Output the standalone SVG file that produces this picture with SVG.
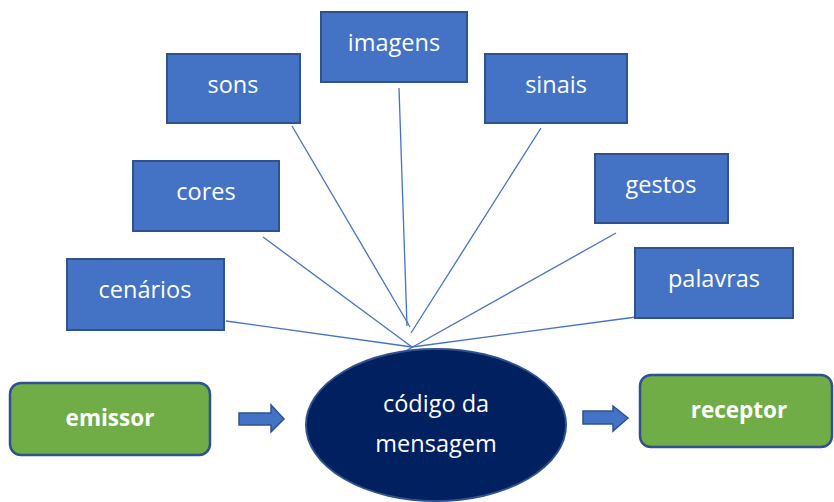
<svg xmlns="http://www.w3.org/2000/svg" width="834" height="502" viewBox="0 0 834 502">
<style>
.box{fill:#4472C4;stroke:#2F528F;stroke-width:2}
.grn{fill:#70AD47;stroke:#2F528F;stroke-width:2.5}
.t{font-family:"Open Sans","Noto Sans",sans-serif;font-size:23.5px;fill:#fff;text-anchor:middle}
.b{font-family:"Open Sans","Noto Sans",sans-serif;font-size:22.5px;font-weight:bold;fill:#fff;text-anchor:middle}
.ln{stroke:#4472C4;stroke-width:1.3;fill:none}
.arr{fill:#4472C4;stroke:#2F528F;stroke-width:1.5}
</style>
<rect width="834" height="502" fill="#fff"/>
<g id="connectors">
<line class="ln" x1="226" y1="321" x2="412" y2="347"/>
<line class="ln" x1="263" y1="237" x2="412" y2="347"/>
<line class="ln" x1="292" y1="126" x2="410" y2="327"/>
<line class="ln" x1="399" y1="88" x2="407" y2="326"/>
<line class="ln" x1="541" y1="128" x2="411" y2="333"/>
<line class="ln" x1="616" y1="233" x2="402" y2="353"/>
<line class="ln" x1="636" y1="317" x2="412" y2="347"/>
<polygon class="arr" points="239,413 271,413 271,405 284,419 271,432 271,425 239,425"/>
<polygon class="arr" points="583,411 613,411 613,406 628,418 613,431 613,424 583,424"/>
</g>
<g id="cenarios"><rect class="box" x="67" y="259" width="157" height="71"/><text class="t" x="145" y="298">cenários</text></g>
<g id="cores"><rect class="box" x="133" y="161" width="146" height="70"/><text class="t" x="206" y="200">cores</text></g>
<g id="sons"><rect class="box" x="167" y="54" width="133" height="69"/><text class="t" x="233" y="93">sons</text></g>
<g id="imagens"><rect class="box" x="321" y="12" width="146" height="70"/><text class="t" x="394" y="51">imagens</text></g>
<g id="sinais"><rect class="box" x="485" y="54" width="142" height="69"/><text class="t" x="556" y="93">sinais</text></g>
<g id="gestos"><rect class="box" x="595" y="154" width="133" height="69"/><text class="t" x="661" y="193">gestos</text></g>
<g id="palavras"><rect class="box" x="635" y="248" width="158" height="70"/><text class="t" x="714" y="287">palavras</text></g>
<g id="emissor"><rect class="grn" x="10" y="383" width="200" height="72" rx="11"/><text class="b" x="110" y="426">emissor</text></g>
<g id="receptor"><rect class="grn" x="640" y="375" width="192" height="72" rx="11"/><text class="b" x="739" y="418">receptor</text></g>
<g id="codigo"><ellipse cx="436" cy="425" rx="130" ry="76" fill="#002060" stroke="#2F528F" stroke-width="2"/><text class="t" x="436" y="412">código da</text><text class="t" x="436" y="452">mensagem</text></g>
</svg>
